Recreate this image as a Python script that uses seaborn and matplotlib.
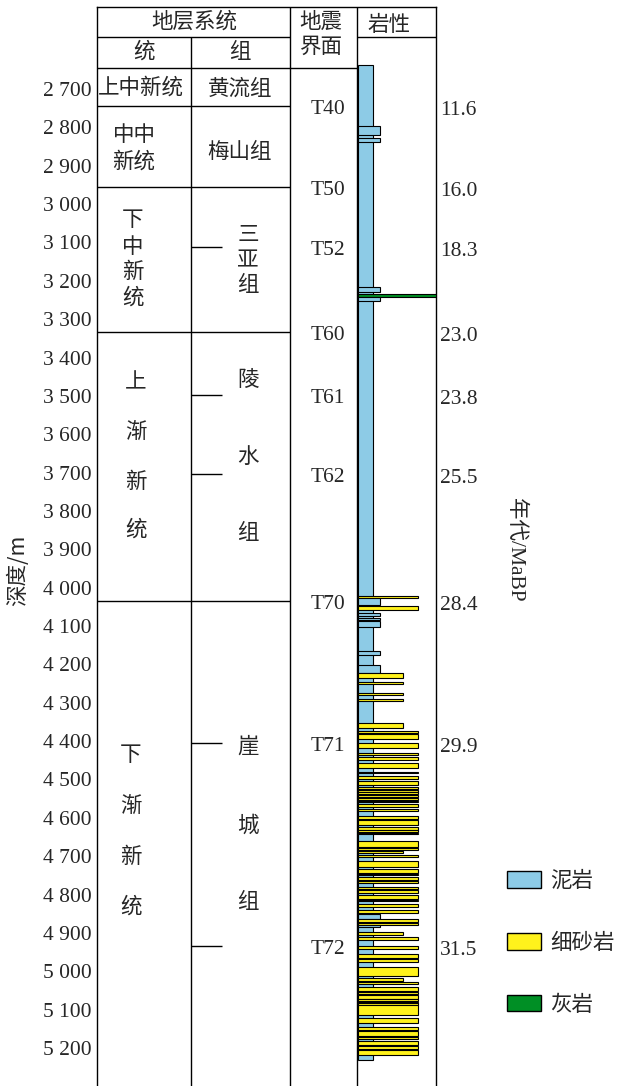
import matplotlib
matplotlib.use("Agg")
import matplotlib.pyplot as plt
from matplotlib.patches import Patch
from matplotlib.ticker import FixedLocator, FuncFormatter
from matplotlib.transforms import ScaledTranslation
import seaborn as sns

# ---------------- data ----------------
depth_ticks = [2700, 2800, 2900, 3000, 3100, 3200, 3300, 3400, 3500, 3600, 3700,
               3800, 3900, 4000, 4100, 4200, 4300, 4400, 4500, 4600, 4700, 4800,
               4900, 5000, 5100, 5200]

horizon_names = ["T40", "T50", "T52", "T60", "T61", "T62", "T70", "T71", "T72"]
horizon_depth = [2744, 2956, 3112, 3334, 3498, 3704, 4035, 4405, 4934]
horizon_age = ["11.6", "16.0", "18.3", "23.0", "23.8", "25.5", "28.4", "29.9", "31.5"]
# horizons that close a series / formation (full line across the table)
series_horizons = ["T40", "T50", "T60", "T70"]

series_names = ["上中新统", "中中新统", "下中新统", "上渐新统", "下渐新统"]
formation_names = ["黄流组", "梅山组", "三亚组", "陵水组", "崖城组"]

lith_names = ["泥岩", "细砂岩", "灰岩"]

# lithology beds: top (m), base (m), rock type, grain-size class
bed_top = [2637, 2796, 2828, 3215, 3235, 3243,
           4022, 4026, 4047, 4066, 4079, 4087, 4165, 4202, 4223, 4246, 4275, 4290,
           4353, 4374, 4382, 4405, 4431, 4441, 4457, 4481, 4491, 4504,
           4520, 4527, 4534, 4541, 4548, 4555, 4564, 4577, 4595, 4606, 4624, 4633,
           4640, 4660, 4679, 4687, 4697, 4713, 4733, 4746, 4754, 4765, 4780, 4788,
           4801, 4814, 4825, 4840, 4851, 4864, 4874, 4879, 4898, 4911, 4934, 4955,
           4968, 4989, 5018, 5028, 5041, 5054, 5062, 5073, 5079, 5084, 5088, 5122,
           5145, 5156, 5171, 5182, 5195, 5205]
bed_base = [5231, 2820, 2839, 3228, 3241, 3253,
            4026, 4045, 4058, 4074, 4084, 4103, 4176, 4223, 4236, 4251, 4280, 4296,
            4366, 4379, 4395, 4418, 4436, 4449, 4470, 4484, 4499, 4514,
            4525, 4532, 4539, 4546, 4553, 4559, 4572, 4582, 4603, 4619, 4631, 4637,
            4643, 4676, 4684, 4692, 4702, 4728, 4744, 4749, 4762, 4770, 4786, 4796,
            4812, 4817, 4833, 4848, 4864, 4872, 4879, 4885, 4906, 4919, 4942, 4966,
            4976, 5012, 5025, 5033, 5052, 5059, 5072, 5077, 5083, 5088, 5114, 5135,
            5153, 5169, 5177, 5192, 5203, 5218]
bed_lith = ["泥岩", "泥岩", "泥岩", "泥岩", "灰岩", "泥岩",
            "细砂岩", "泥岩", "细砂岩", "泥岩", "泥岩", "泥岩", "泥岩", "泥岩",
            "细砂岩", "细砂岩", "细砂岩", "细砂岩",
            "细砂岩", "细砂岩", "细砂岩", "细砂岩", "细砂岩", "细砂岩", "细砂岩",
            "细砂岩", "细砂岩", "细砂岩",
            "细砂岩", "细砂岩", "细砂岩", "细砂岩", "细砂岩", "细砂岩", "细砂岩",
            "细砂岩", "细砂岩", "细砂岩", "细砂岩", "细砂岩",
            "细砂岩", "细砂岩", "细砂岩", "细砂岩", "细砂岩", "细砂岩", "细砂岩",
            "细砂岩", "细砂岩", "细砂岩", "细砂岩", "细砂岩",
            "细砂岩", "细砂岩", "细砂岩", "细砂岩", "泥岩", "细砂岩", "细砂岩",
            "泥岩", "细砂岩", "细砂岩", "细砂岩", "细砂岩",
            "细砂岩", "细砂岩", "细砂岩", "细砂岩", "细砂岩", "细砂岩", "细砂岩",
            "细砂岩", "细砂岩", "细砂岩", "细砂岩", "细砂岩",
            "细砂岩", "细砂岩", "细砂岩", "细砂岩", "细砂岩", "细砂岩"]
bed_grain = [1, 1.5, 1.5, 1.5, 5.2, 1.5,
             4, 1.5, 4, 1.5, 1.5, 1.5, 1.5, 1.5, 3, 3, 3, 3,
             3, 4, 4, 4, 4, 4, 4, 4, 4, 4,
             4, 4, 4, 4, 4, 4, 4, 4, 4, 4, 4, 4,
             4, 4, 4, 3, 4, 4, 4, 4, 4, 4, 4, 4,
             4, 4, 4, 4, 1.5, 4, 4, 1.5, 3, 4, 4, 4,
             4, 4, 3, 4, 4, 4, 4, 4, 4, 4, 4, 4,
             4, 4, 4, 4, 4, 4]

# ---------------- style ----------------
sns.set_theme(style="white")
plt.rcParams["font.family"] = ["Liberation Serif", "Noto Sans CJK SC"]
CJK = ["Noto Sans CJK SC", "Liberation Serif"]
SERIF = ["Liberation Serif", "Noto Sans CJK SC"]
lith_colors = {"泥岩": "#8DCBE6", "细砂岩": "#FFF21C", "灰岩": "#008F25"}

NUM_FS = 15.5
CJK_FS = 15.5
LW = 1.0

W, H = 621, 1086
X_L, X_SER, X_FM, X_SEIS, X_R = 97, 191, 290, 357, 436
Y_TOP, Y_H1, Y_H2 = 7, 37, 68
D_TOP, D_BOT = 2486.2, 5299.2
GRAIN_PX = 15.0

fig = plt.figure(figsize=(W / 100, H / 100), dpi=100)
ax = fig.add_axes([X_L / W, 0, (X_R - X_L) / W, (H - Y_TOP) / H])
ax.set_xlim(X_L, X_R)
ax.set_ylim(D_BOT, D_TOP)


def yd(py):
    """figure pixel row -> depth coordinate of the column axes"""
    return D_TOP + (py - Y_TOP) * (D_BOT - D_TOP) / (H - Y_TOP)


for s in ["left", "right", "top"]:
    ax.spines[s].set_color("black")
    ax.spines[s].set_linewidth(LW)
ax.spines["bottom"].set_visible(False)
ax.set_xticks([])

# depth axis
ax.yaxis.set_major_locator(FixedLocator(depth_ticks))
ax.yaxis.set_major_formatter(FuncFormatter(lambda v, p: f"{int(v) // 1000} {int(v) % 1000:03d}"))
ax.tick_params(axis="y", length=0, pad=4, labelsize=NUM_FS)
for t in ax.get_yticklabels():
    t.set_fontfamily(SERIF)
ax.set_ylabel("深度/m", fontsize=CJK_FS, fontfamily=CJK, va="center", ha="center")
ax.yaxis.set_label_coords((18 - X_L) / (X_R - X_L), (H - 570) / (H - Y_TOP))

# age axis on the right
ax2 = ax.twinx()
ax2.set_ylim(D_BOT, D_TOP)
ax2.yaxis.set_major_locator(FixedLocator(horizon_depth))
ax2.set_yticklabels(horizon_age)
ax2.tick_params(axis="y", length=0, pad=3, labelsize=NUM_FS)
shift = ScaledTranslation(0, -2 / 100, fig.dpi_scale_trans)
for t in ax2.get_yticklabels():
    t.set_fontfamily(SERIF)
    t.set_transform(t.get_transform() + shift)
for s in ax2.spines.values():
    s.set_visible(False)
ax2.set_ylabel("年代/MaBP", fontsize=CJK_FS, rotation=270, fontfamily=SERIF,
               va="center", ha="center")
ax2.yaxis.set_label_coords((515 - X_L) / (X_R - X_L), (H - 550) / (H - Y_TOP))

# ---------------- table frame ----------------
line_kw = dict(color="black", lw=LW, solid_capstyle="butt")
ax.plot([X_SER, X_SER], [yd(Y_H1), D_BOT], **line_kw)
ax.plot([X_FM, X_FM], [D_TOP, D_BOT], **line_kw)
ax.plot([X_SEIS, X_SEIS], [D_TOP, D_BOT], **line_kw)
ax.plot([X_L, X_FM], [yd(Y_H1)] * 2, **line_kw)
ax.plot([X_SEIS, X_R], [yd(Y_H1)] * 2, **line_kw)
ax.plot([X_L, X_SEIS], [yd(Y_H2)] * 2, **line_kw)

for name, d in zip(horizon_names, horizon_depth):
    if name in series_horizons:
        ax.plot([X_L, X_FM], [d, d], **line_kw)
    else:
        ax.plot([X_SER, X_SER + 31], [d, d], **line_kw)
    ax.text(328, d + 9, name, ha="center", va="center", fontsize=NUM_FS, fontfamily=SERIF)

# header texts
hdr = [("地层系统", 194, 22), ("统", 144, 52), ("组", 240, 52),
       ("地震", 321, 22), ("界面", 321, 47), ("岩性", 389, 25)]
for txt, px, py in hdr:
    ax.text(px, yd(py), txt, ha="center", va="center", fontsize=CJK_FS, fontfamily=CJK)

# series / formation names
series_layout = [
    (141, [88], None),
    (134, [135, 162], ["中中", "新统"]),
    (133, [220, 247, 272, 298], None),
    (136, [382, 432, 482, 530], None),
    (131, [755, 806, 857, 907], None),
]
for name, (px, rows, parts) in zip(series_names, series_layout):
    if parts is None:
        parts = [name] if len(rows) == 1 else list(name)
    for part, py in zip(parts, rows):
        ax.text(px, yd(py), part, ha="center", va="center", fontsize=CJK_FS, fontfamily=CJK)

formation_layout = [
    (240, [89]), (240, [152]), (248, [235, 260, 285]),
    (248, [380, 457, 533]), (248, [747, 826, 902]),
]
for name, (px, rows) in zip(formation_names, formation_layout):
    parts = [name] if len(rows) == 1 else list(name)
    for part, py in zip(parts, rows):
        ax.text(px, yd(py), part, ha="center", va="center", fontsize=CJK_FS, fontfamily=CJK)

# ---------------- lithology column ----------------
for top, base, lith, grain in zip(bed_top, bed_base, bed_lith, bed_grain):
    ax.barh((top + base) / 2, grain * GRAIN_PX, left=X_SEIS + 0.5, height=base - top,
            color=lith_colors[lith], edgecolor="black", linewidth=0.8, zorder=3)

# ---------------- legend ----------------
handles = [Patch(facecolor=lith_colors[n], edgecolor="black", linewidth=1.0) for n in lith_names]
leg = fig.legend(handles, lith_names, loc="upper left",
                 bbox_to_anchor=(507 / W, 1 - 870 / H), frameon=False,
                 handlelength=1.6, handleheight=0.8,
                 labelspacing=1.85, handletextpad=0.4, borderpad=0, borderaxespad=0,
                 prop={"family": CJK, "size": CJK_FS})

fig.savefig("out.png", dpi=100)
